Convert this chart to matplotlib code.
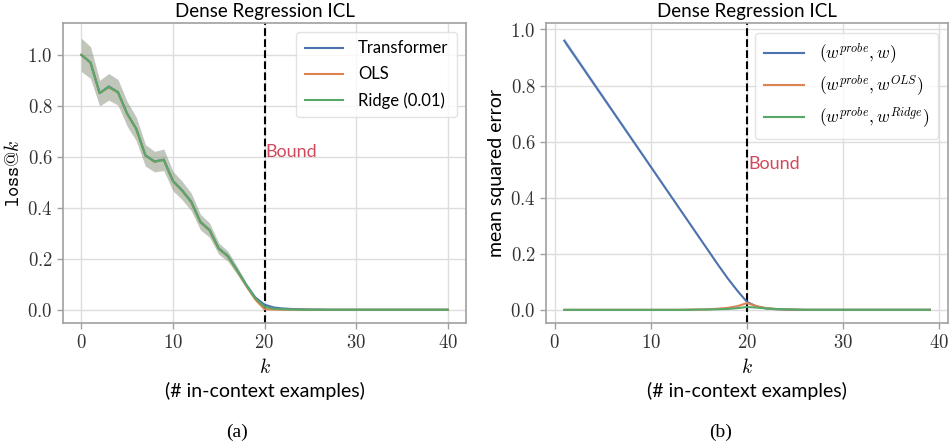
import matplotlib
matplotlib.use("Agg")
import matplotlib.pyplot as plt
from matplotlib.ticker import FuncFormatter, MultipleLocator
import numpy as np

# ---- data ----
k_left = list(range(0, 41))
transformer_loss = [1.0, 0.97, 0.85, 0.876, 0.854, 0.77, 0.71, 0.606, 0.582, 0.589,
                    0.506, 0.469, 0.424, 0.345, 0.313, 0.241, 0.211, 0.156, 0.098, 0.048,
                    0.02, 0.009, 0.005, 0.003, 0.002, 0.001, 0.001, 0.0, 0.0, 0.0,
                    0.0, 0.0, 0.0, 0.0, 0.0, 0.0, 0.0, 0.0, 0.0, 0.0, 0.0]
ols_loss = [1.0, 0.97, 0.85, 0.873, 0.852, 0.768, 0.708, 0.605, 0.58, 0.588,
            0.504, 0.467, 0.422, 0.343, 0.311, 0.239, 0.209, 0.153, 0.094, 0.04,
            0.002, 0.001, 0.0, 0.0, 0.0, 0.0, 0.0, 0.0, 0.0, 0.0,
            0.0, 0.0, 0.0, 0.0, 0.0, 0.0, 0.0, 0.0, 0.0, 0.0, 0.0]
ridge_loss = [1.0, 0.97, 0.85, 0.874, 0.853, 0.769, 0.709, 0.605, 0.581, 0.588,
              0.505, 0.468, 0.423, 0.344, 0.312, 0.24, 0.21, 0.155, 0.097, 0.045,
              0.012, 0.004, 0.002, 0.001, 0.0, 0.0, 0.0, 0.0, 0.0, 0.0,
              0.0, 0.0, 0.0, 0.0, 0.0, 0.0, 0.0, 0.0, 0.0, 0.0, 0.0]
loss_std = [0.065, 0.062, 0.05, 0.052, 0.05, 0.048, 0.046, 0.042, 0.04, 0.042,
            0.038, 0.036, 0.034, 0.03, 0.028, 0.022, 0.02, 0.015, 0.01, 0.006,
            0.003, 0.002, 0.001, 0.0, 0.0, 0.0, 0.0, 0.0, 0.0, 0.0,
            0.0, 0.0, 0.0, 0.0, 0.0, 0.0, 0.0, 0.0, 0.0, 0.0, 0.0]

k_right = list(range(1, 40))
mse_w = [0.96, 0.91, 0.86, 0.81, 0.76, 0.71, 0.66, 0.61, 0.56, 0.51,
         0.46, 0.41, 0.36, 0.31, 0.26, 0.21, 0.16, 0.112, 0.068, 0.028,
         0.012, 0.005, 0.002, 0.001, 0.0, 0.0, 0.0, 0.0, 0.0, 0.0,
         0.0, 0.0, 0.0, 0.0, 0.0, 0.0, 0.0, 0.0, 0.0]
mse_ols = [0.0, 0.0, 0.0, 0.0, 0.0, 0.0, 0.0, 0.0, 0.0, 0.0,
           0.0, 0.0, 0.0, 0.001, 0.001, 0.002, 0.004, 0.007, 0.013, 0.024,
           0.013, 0.006, 0.003, 0.001, 0.001, 0.0, 0.0, 0.0, 0.0, 0.0,
           0.0, 0.0, 0.0, 0.0, 0.0, 0.0, 0.0, 0.0, 0.0]
mse_ridge = [0.0, 0.0, 0.0, 0.0, 0.0, 0.0, 0.0, 0.0, 0.0, 0.0,
             0.0, 0.0, 0.0, 0.0, 0.001, 0.001, 0.002, 0.003, 0.006, 0.01,
             0.008, 0.005, 0.003, 0.002, 0.001, 0.0, 0.0, 0.0, 0.0, 0.0,
             0.0, 0.0, 0.0, 0.0, 0.0, 0.0, 0.0, 0.0, 0.0]
mse_w_std = [0.012, 0.01, 0.01, 0.009, 0.009, 0.008, 0.008, 0.007, 0.007, 0.006,
             0.006, 0.005, 0.005, 0.005, 0.004, 0.004, 0.003, 0.003, 0.002, 0.002,
             0.001, 0.001, 0.0, 0.0, 0.0, 0.0, 0.0, 0.0, 0.0, 0.0,
             0.0, 0.0, 0.0, 0.0, 0.0, 0.0, 0.0, 0.0, 0.0]

bound_k = 20
blue, orange, green = "#4c72b0", "#dd8452", "#55a868"
bound_red = "#d1495b"

plt.rcParams["mathtext.fontset"] = "cm"
plt.rcParams["font.family"] = ["Lato", "DejaVu Sans"]

fig = plt.figure(figsize=(9.5, 4.46), dpi=100)
ax1 = fig.add_axes([63 / 950, 1 - 323 / 446, 403 / 950, 300 / 446])
ax2 = fig.add_axes([546 / 950, 1 - 323 / 446, 402 / 950, 300 / 446])

fmt1 = FuncFormatter(lambda v, p: r"$%.1f$" % v)
fmt0 = FuncFormatter(lambda v, p: r"$%d$" % v)

for ax in (ax1, ax2):
    ax.set_facecolor("white")
    ax.grid(True, color="#dddddd", linewidth=1.0)
    ax.set_axisbelow(True)
    for s in ax.spines.values():
        s.set_color("#a0a0a0")
        s.set_linewidth(1.2)
    ax.tick_params(direction="out", length=4, width=1, color="#a0a0a0",
                   labelsize=13.5, labelcolor="#333333")
    ax.xaxis.set_major_locator(MultipleLocator(10))
    ax.xaxis.set_major_formatter(fmt0)
    ax.yaxis.set_major_locator(MultipleLocator(0.2))
    ax.yaxis.set_major_formatter(fmt1)
    ax.set_title("Dense Regression ICL", fontsize=13.5, pad=4)
    ax.set_xlabel("$k$\n(# in-context examples)", fontsize=14, linespacing=1.4)
    ax.axvline(bound_k, color="black", linestyle="--", linewidth=1.5)

# left panel
tl = np.array(transformer_loss)
ol = np.array(ols_loss)
rl = np.array(ridge_loss)
sd = np.array(loss_std)
for y, c in ((tl, blue), (ol, orange), (rl, green)):
    ax1.fill_between(k_left, y - sd, y + sd, color=c, alpha=0.2, linewidth=0)
ax1.plot(k_left, tl, color=blue, lw=1.5, label="Transformer")
ax1.plot(k_left, ol, color=orange, lw=1.5, label="OLS")
ax1.plot(k_left, rl, color=green, lw=1.5, label="Ridge (0.01)")
ax1.set_xlim(-2, 42)
ax1.set_ylim(-0.052, 1.125)
ax1.set_ylabel(r"$\mathtt{loss@}k$", fontsize=14, labelpad=4)
ax1.text(bound_k + 0.15, 0.62, "Bound", color=bound_red, fontsize=13, va="center")
ax1.legend(loc="upper right", fontsize=12, handlelength=2.3, handletextpad=0.9,
           borderaxespad=0.55, labelspacing=0.6, borderpad=0.5,
           framealpha=0.8, edgecolor="#dddddd")

# right panel
mw = np.array(mse_w)
ws = np.array(mse_w_std)
ax2.fill_between(k_right, mw - ws, mw + ws, color=blue, alpha=0.2, linewidth=0)
ax2.plot(k_right, mw, color=blue, lw=1.5, label=r"$(w^{probe}, w)$")
ax2.plot(k_right, mse_ols, color=orange, lw=1.5, label=r"$(w^{probe}, w^{OLS})$")
ax2.plot(k_right, mse_ridge, color=green, lw=1.5, label=r"$(w^{probe}, w^{Ridge})$")
ax2.set_xlim(-0.9, 40.9)
ax2.set_ylim(-0.047, 1.023)
ax2.set_ylabel("mean squared error", fontsize=14, labelpad=4)
ax2.text(bound_k + 0.15, 0.52, "Bound", color=bound_red, fontsize=13, va="center")
ax2.legend(loc="upper right", fontsize=12.5, handlelength=2.3, handletextpad=0.9,
           borderaxespad=0.55, labelspacing=0.45, borderpad=0.5,
           framealpha=0.8, edgecolor="#dddddd")

fig.text(237 / 950, 1 - 432 / 446, "(a)", fontsize=14, family="Liberation Serif",
         ha="center", va="center")
fig.text(721 / 950, 1 - 432 / 446, "(b)", fontsize=14, family="Liberation Serif",
         ha="center", va="center")

fig.savefig("out.png", dpi=100)
